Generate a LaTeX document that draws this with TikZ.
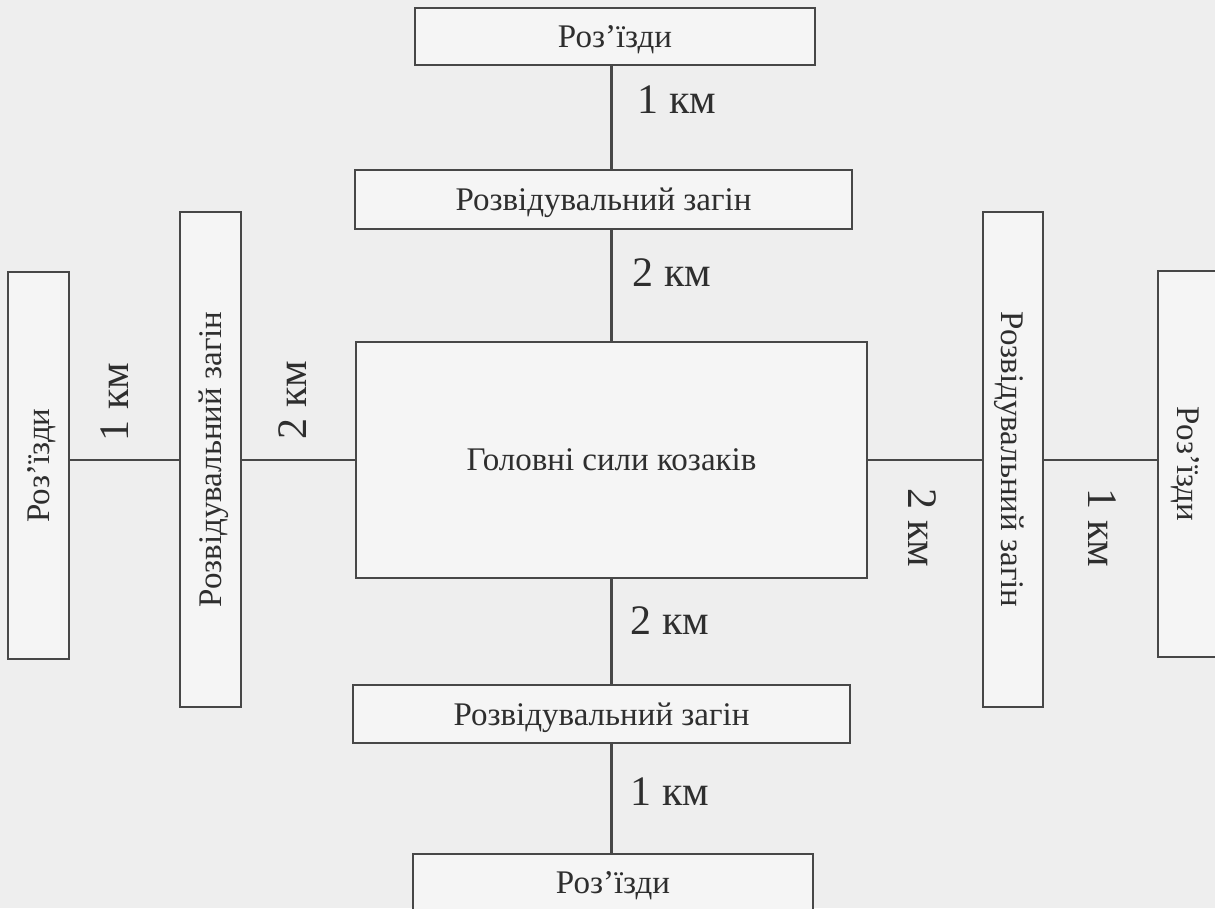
\documentclass[tikz,border=0pt]{standalone}
\usepackage{fontspec}
\setmainfont{Liberation Serif}
\definecolor{paper}{HTML}{EEEEEE}
\definecolor{boxfill}{HTML}{F5F5F5}
\definecolor{ink}{HTML}{474747}
\definecolor{txt}{HTML}{2E2E2E}
\begin{document}
\begin{tikzpicture}[x = 1pt, y = -1pt,
        box/.style = {draw = ink, line width = 2.2pt, fill = boxfill, text = txt, inner sep = 0pt, text depth = 0pt, font = \fontsize{33}{36}\selectfont},
        km/.style = {text = txt, inner sep = 0pt, font = \fontsize{42}{46}\selectfont},
        link/.style = {draw = ink, line width = 2.2pt}]
        \useasboundingbox (0, 0) rectangle (1215, 908);
        \fill[paper] (0, 0) rectangle (1215, 908);
        \clip (0, 0) rectangle (1215, 908);
        \node[box, minimum width = 511pt, minimum height = 236pt] (main) at (611.5, 460) {Головні сили козаків};
        \node[box, minimum width = 400pt, minimum height = 57pt] (rozTop) at (615, 36.5) {Роз’їзди};
        \node[box, minimum width = 497pt, minimum height = 59pt] (zahTop) at (603.5, 199.5) {Розвідувальний загін};
        \node[box, minimum width = 497pt, minimum height = 58pt] (zahBot) at (601.5, 714) {Розвідувальний загін};
        \node[box, minimum width = 400pt, minimum height = 57pt] (rozBot) at (613, 882.5) {Роз’їзди};
        \node[box, rotate = 90, minimum width = 387pt, minimum height = 61pt] (rozLeft) at (38.5, 465.5) {Роз’їзди};
        \node[box, rotate = 90, minimum width = 495pt, minimum height = 61pt] (zahLeft) at (210.5, 459.5) {Розвідувальний загін};
        \node[box, rotate = -90, minimum width = 495pt, minimum height = 60pt] (zahRight) at (1013, 459.5) {Розвідувальний загін};
        \node[box, rotate = -90, minimum width = 386pt, minimum height = 61pt] (rozRight) at (1188.5, 464) {Роз’їзди};
        \draw[link, line width = 2.8pt] (rozTop.south -| main) -- (zahTop.north -| main);
        \draw[link] (zahTop.south -| main) -- (main.north);
        \draw[link] (main.south) -- (zahBot.north -| main);
        \draw[link] (zahBot.south -| main) -- (rozBot.north -| main);
        \draw[link] (rozLeft.south |- main) -- (zahLeft.north |- main);
        \draw[link] (zahLeft.south |- main) -- (main.west);
        \draw[link] (main.east) -- (zahRight.south |- main);
        \draw[link] (zahRight.north |- main) -- (rozRight.south |- main);
        \node[km] (kmA) at (677, 100) {1 км};
        \node[km] (kmB) at (672, 273) {2 км};
        \node[km] (kmC) at (670, 621) {2 км};
        \node[km] (kmD) at (670, 792) {1 км};
        \node[km, rotate = 90] (kmE) at (115, 402) {1 км};
        \node[km, rotate = 90] (kmF) at (293, 400) {2 км};
        \node[km, rotate = -90] (kmG) at (922, 528) {2 км};
        \node[km, rotate = -90] (kmH) at (1102, 528) {1 км};
    \end{tikzpicture}
\end{document}
